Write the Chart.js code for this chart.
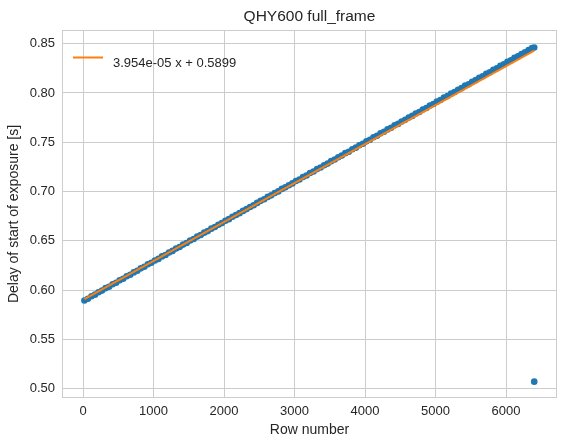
<!DOCTYPE html>
<html>
<head>
<meta charset="utf-8">
<script src="https://cdn.jsdelivr.net/npm/chart.js@4.4.1/dist/chart.umd.min.js"></script>
<style>
  html, body { margin: 0; padding: 0; background: #ffffff; }
  #wrap { width: 567px; height: 448px; }
</style>
</head>
<body>
<div id="wrap"><canvas id="c" width="567" height="448"></canvas></div>
<script>
// ---- data ----
const chartTitle = "QHY600 full_frame";
const xLabel = "Row number";
const yLabel = "Delay of start of exposure [s]";

const rows = [
  20, 70, 120, 170, 220, 270, 320, 370, 420, 470,
  520, 570, 620, 670, 720, 770, 820, 870, 920, 970,
  1020, 1070, 1120, 1170, 1220, 1270, 1320, 1370, 1420, 1470,
  1520, 1570, 1620, 1670, 1720, 1770, 1820, 1870, 1920, 1970,
  2020, 2070, 2120, 2170, 2220, 2270, 2320, 2370, 2420, 2470,
  2520, 2570, 2620, 2670, 2720, 2770, 2820, 2870, 2920, 2970,
  3020, 3070, 3120, 3170, 3220, 3270, 3320, 3370, 3420, 3470,
  3520, 3570, 3620, 3670, 3720, 3770, 3820, 3870, 3920, 3970,
  4020, 4070, 4120, 4170, 4220, 4270, 4320, 4370, 4420, 4470,
  4520, 4570, 4620, 4670, 4720, 4770, 4820, 4870, 4920, 4970,
  5020, 5070, 5120, 5170, 5220, 5270, 5320, 5370, 5420, 5470,
  5520, 5570, 5620, 5670, 5720, 5770, 5820, 5870, 5920, 5970,
  6020, 6070, 6120, 6170, 6220, 6270, 6320, 6370, 6400, 6400
];
const delays = [
  0.5893, 0.5912, 0.5937, 0.5953, 0.5978, 0.5994, 0.6019, 0.6033, 0.6058, 0.6074,
  0.6099, 0.6114, 0.6140, 0.6155, 0.6179, 0.6195, 0.6220, 0.6236, 0.6262, 0.6276,
  0.6300, 0.6316, 0.6341, 0.6356, 0.6381, 0.6397, 0.6422, 0.6437, 0.6461, 0.6477,
  0.6502, 0.6518, 0.6542, 0.6558, 0.6582, 0.6598, 0.6623, 0.6639, 0.6663, 0.6679,
  0.6703, 0.6719, 0.6744, 0.6762, 0.6780, 0.6803, 0.6821, 0.6843, 0.6861, 0.6884,
  0.6905, 0.6921, 0.6945, 0.6961, 0.6985, 0.7001, 0.7026, 0.7042, 0.7063, 0.7082,
  0.7106, 0.7122, 0.7147, 0.7162, 0.7187, 0.7203, 0.7227, 0.7243, 0.7267, 0.7283,
  0.7308, 0.7324, 0.7348, 0.7364, 0.7389, 0.7404, 0.7429, 0.7445, 0.7469, 0.7485,
  0.7509, 0.7525, 0.7550, 0.7565, 0.7590, 0.7606, 0.7630, 0.7646, 0.7671, 0.7686,
  0.7711, 0.7727, 0.7751, 0.7767, 0.7792, 0.7807, 0.7832, 0.7848, 0.7872, 0.7888,
  0.7912, 0.7928, 0.7953, 0.7968, 0.7993, 0.8009, 0.8033, 0.8049, 0.8074, 0.8089,
  0.8114, 0.8130, 0.8154, 0.8170, 0.8195, 0.8210, 0.8235, 0.8251, 0.8275, 0.8291,
  0.8315, 0.8331, 0.8356, 0.8371, 0.8396, 0.8412, 0.8436, 0.8456, 0.8462, 0.5070
];

const fitSlope = 3.954e-05;
const fitIntercept = 0.5899;
const fitLabel = "3.954e-05 x + 0.5899";
const fitRows = [20, 6400];

const xTicks = [0, 1000, 2000, 3000, 4000, 5000, 6000];
const yTicks = [0.50, 0.55, 0.60, 0.65, 0.70, 0.75, 0.80, 0.85];
const xRange = [-298, 6723];
const yRange = [0.4904, 0.8639];

// ---- build ----
const scatterPts = rows.map((r, i) => ({ x: r, y: delays[i] }));
const fitPts = fitRows.map(r => ({ x: r, y: fitIntercept + fitSlope * r }));

const FONT = "'Liberation Sans', Arial, sans-serif";
Chart.defaults.font.family = FONT;
Chart.defaults.color = '#262626';

const frame = {
  id: 'frame',
  afterDatasetsDraw(chart) {
    const a = chart.chartArea, ctx = chart.ctx;
    ctx.save();
    ctx.strokeStyle = '#cccccc';
    ctx.lineWidth = 1;
    ctx.strokeRect(a.left + 0.5, a.top + 0.5, a.right - a.left - 1, a.bottom - a.top - 1);
    // title centred over the axes
    ctx.fillStyle = '#262626';
    ctx.font = "15.5px " + FONT;
    ctx.textAlign = 'center';
    ctx.textBaseline = 'alphabetic';
    ctx.fillText(chartTitle, (a.left + a.right) / 2, a.top - 9);
    // legend (inside the axes, upper left)
    const ds = chart.data.datasets[0];
    const lx = a.left + 11, ly = a.top + 27.5;
    ctx.strokeStyle = ds.borderColor;
    ctx.lineWidth = 2;
    ctx.beginPath();
    ctx.moveTo(lx, ly);
    ctx.lineTo(lx + 30, ly);
    ctx.stroke();
    ctx.fillStyle = '#262626';
    ctx.font = "13px " + FONT;
    ctx.textBaseline = 'middle';
    ctx.textAlign = 'left';
    ctx.fillText(ds.label, lx + 40, ly + 6);
    ctx.restore();
  }
};

new Chart(document.getElementById('c'), {
  type: 'scatter',
  data: {
    datasets: [
      {
        label: fitLabel,
        type: 'line',
        data: fitPts,
        borderColor: '#ff7f0e',
        backgroundColor: '#ff7f0e',
        borderWidth: 2,
        pointRadius: 0,
        fill: false,
        order: 0
      },
      {
        label: 'data',
        data: scatterPts,
        backgroundColor: '#1f77b4',
        borderColor: '#1f77b4',
        borderWidth: 0,
        pointRadius: 3.3,
        order: 1
      }
    ]
  },
  options: {
    responsive: false,
    animation: false,
    layout: { padding: { left: 0, right: 10, top: 30, bottom: 0 } },
    plugins: {
      title: { display: false },
      legend: { display: false },
      tooltip: { enabled: false }
    },
    scales: {
      x: {
        type: 'linear',
        min: xRange[0],
        max: xRange[1],
        afterBuildTicks: s => { s.ticks = xTicks.map(v => ({ value: v })); },
        afterFit: s => { s.height = 50; },
        grid: { color: '#cccccc', drawTicks: false, lineWidth: 1 },
        border: { display: false },
        ticks: { font: { size: 13 }, color: '#262626', padding: 6, maxRotation: 0,
                 callback: v => String(v) },
        title: { display: true, text: xLabel, font: { size: 14 }, color: '#262626', padding: { top: 4, bottom: 9 } }
      },
      y: {
        type: 'linear',
        min: yRange[0],
        max: yRange[1],
        afterBuildTicks: s => { s.ticks = yTicks.map(v => ({ value: v })); },
        afterFit: s => { s.width = 62; },
        grid: { color: '#cccccc', drawTicks: false, lineWidth: 1 },
        border: { display: false },
        ticks: { font: { size: 13 }, color: '#262626', padding: 7,
                 callback: v => Number(v).toFixed(2) },
        title: { display: true, text: yLabel, font: { size: 14 }, color: '#262626', padding: { top: 6, bottom: 4 } }
      }
    }
  },
  plugins: [frame]
});
</script>
</body>
</html>
